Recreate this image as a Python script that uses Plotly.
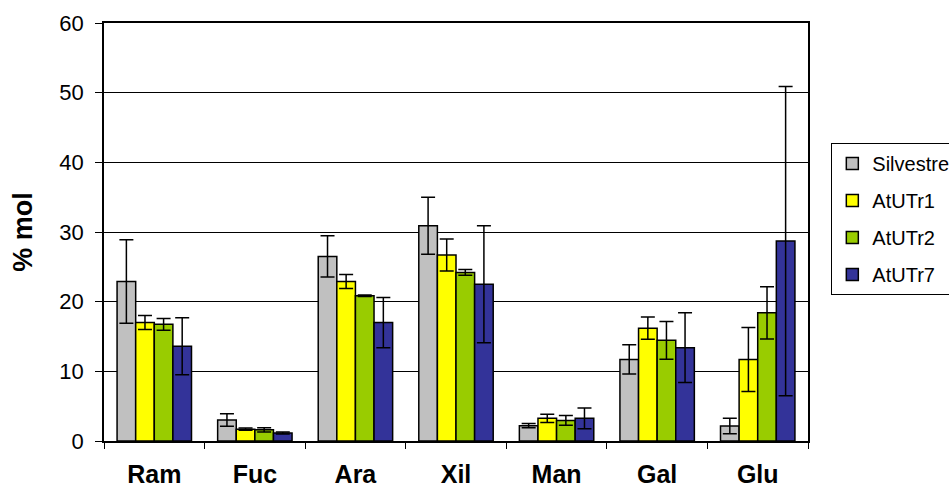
import plotly.graph_objects as go

categories = ["Ram", "Fuc", "Ara", "Xil", "Man", "Gal", "Glu"]
series_names = ["Silvestre", "AtUTr1", "AtUTr2", "AtUTr7"]
silvestre = [22.9, 3.0, 26.5, 30.9, 2.2, 11.7, 2.15]
silvestre_err = [6.0, 0.9, 2.95, 4.1, 0.3, 2.1, 1.1]
atutr1 = [17.0, 1.7, 22.9, 26.7, 3.25, 16.2, 11.7]
atutr1_err = [1.0, 0.15, 1.0, 2.3, 0.6, 1.6, 4.6]
atutr2 = [16.75, 1.6, 20.85, 24.2, 2.95, 14.45, 18.4]
atutr2_err = [0.85, 0.3, 0.1, 0.4, 0.7, 2.7, 3.75]
atutr7 = [13.6, 1.15, 17.0, 22.5, 3.25, 13.4, 28.7]
atutr7_err = [4.1, 0.15, 3.6, 8.4, 1.5, 5.0, 22.2]
colors = ["#C0C0C0", "#FFFF00", "#99CC00", "#333399"]
y_ticks = [0, 10, 20, 30, 40, 50, 60]

values = [silvestre, atutr1, atutr2, atutr7]
errors = [silvestre_err, atutr1_err, atutr2_err, atutr7_err]

FONT = "Liberation Sans, Arial, sans-serif"

fig = go.Figure()
for name, vals, errs, col in zip(series_names, values, errors, colors):
    fig.add_trace(go.Bar(
        name=name, x=categories, y=vals,
        marker=dict(color=col, line=dict(color="black", width=1.5)),
        error_y=dict(type="data", array=errs, visible=True, color="black",
                     thickness=1.5, width=7),
        legendgroup=name,
    ))

fig.update_layout(
    width=949, height=488,
    margin=dict(l=104, r=141, t=23, b=47),
    paper_bgcolor="white", plot_bgcolor="white",
    barmode="group", bargap=0.26, bargroupgap=0,
    font=dict(family=FONT, color="black"),
    showlegend=True,
    legend=dict(
        xref="container", yref="container",
        x=0.876, y=0.707, xanchor="left", yanchor="top",
        bordercolor="black", borderwidth=1, bgcolor="white",
        font=dict(size=20), traceorder="grouped", tracegroupgap=8,
    ),
    xaxis=dict(
        type="category", tickson="boundaries", ticks="outside", ticklen=6,
        tickcolor="black", showline=True, linecolor="black", linewidth=1.5,
        mirror=True, showgrid=False, automargin=False,
        tickfont=dict(size=25, family=FONT), ticklabelstandoff=10,
        tickprefix="<b>", ticksuffix="</b>",
    ),
    yaxis=dict(
        range=[0, 60], tickvals=y_ticks, ticks="outside", ticklen=7,
        tickcolor="black", showline=True, linecolor="black", linewidth=1.5,
        mirror=True, showgrid=True, gridcolor="black", gridwidth=1,
        zeroline=False, tickfont=dict(size=22), automargin=False,
        ticklabelstandoff=7,
        title=dict(text="<b>% mol</b>", font=dict(size=27), standoff=19),
    ),
)

fig.write_html(
    "out.html",
    config={"displayModeBar": False},
    post_script="document.body.style.margin='0';document.body.style.overflow='hidden';",
)
